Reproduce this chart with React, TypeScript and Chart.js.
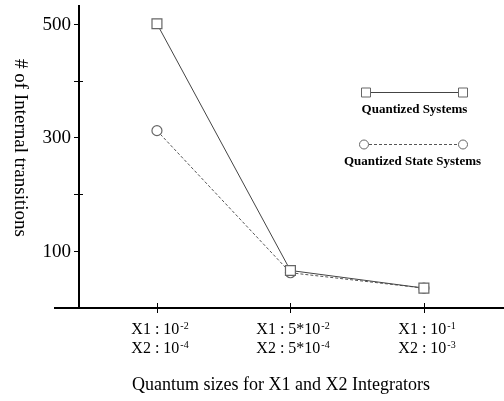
import React, { useEffect, useRef } from "react";
import { Chart, registerables } from "chart.js";

Chart.register(...registerables);

const categoriesX1 = [["X1 : 10", "-2"], ["X1 : 5*10", "-2"], ["X1 : 10", "-1"]];
const categoriesX2 = [["X2 : 10", "-4"], ["X2 : 5*10", "-4"], ["X2 : 10", "-3"]];
const quantizedSystems = [500, 66, 35];
const quantizedStateSystems = [312, 62, 35];
const yTicks = [100, 200, 300, 400, 500];
const yLabeled = [100, 300, 500];
const seriesNames = ["Quantized Systems", "Quantized State Systems"];
const yTitle = "# of Internal transitions";
const xTitle = "Quantum sizes for X1 and X2 Integrators";

const SERIF = "'Liberation Serif', 'Times New Roman', serif";

const drawPlugin = {
  id: "customAxes",
  afterDraw(chart: any) {
    const ctx = chart.ctx as CanvasRenderingContext2D;
    const xs = chart.scales.x;
    const ys = chart.scales.y;
    const area = chart.chartArea;
    ctx.save();
    ctx.strokeStyle = "#000";
    ctx.fillStyle = "#000";
    // axes
    ctx.lineWidth = 2;
    ctx.beginPath();
    ctx.moveTo(54, area.bottom);
    ctx.lineTo(area.right, area.bottom);
    ctx.moveTo(area.left, area.top);
    ctx.lineTo(area.left, area.bottom);
    ctx.stroke();
    // y ticks
    ctx.lineWidth = 1;
    ctx.font = `19px ${SERIF}`;
    ctx.textAlign = "right";
    ctx.textBaseline = "middle";
    yTicks.forEach((v) => {
      const py = Math.round(ys.getPixelForValue(v)) + 0.5;
      const labeled = yLabeled.includes(v);
      ctx.beginPath();
      if (labeled) {
        ctx.moveTo(area.left - 5, py);
        ctx.lineTo(area.left, py);
      } else {
        ctx.moveTo(area.left - 5, py);
        ctx.lineTo(area.left + 4, py);
      }
      ctx.stroke();
      if (labeled) ctx.fillText(String(v), area.left - 8, py + 1);
    });
    // x ticks
    [0, 1, 2].forEach((i) => {
      const px = Math.round(xs.getPixelForValue(i)) + 0.5;
      ctx.beginPath();
      ctx.moveTo(px, area.bottom - 5);
      ctx.lineTo(px, area.bottom + 5);
      ctx.stroke();
      const lines = [categoriesX1[i], categoriesX2[i]];
      const base = 16;
      const sup = 10;
      const widths = lines.map(([a, b]) => {
        ctx.font = `${base}px ${SERIF}`;
        const wa = ctx.measureText(a).width;
        ctx.font = `${sup}px ${SERIF}`;
        return wa + ctx.measureText(b).width;
      });
      const maxW = Math.max(...widths);
      const left = px - maxW / 2 + 2;
      ctx.textAlign = "left";
      ctx.textBaseline = "alphabetic";
      lines.forEach(([a, b], j) => {
        const by = area.bottom + 26 + j * 19;
        ctx.font = `${base}px ${SERIF}`;
        ctx.fillText(a, left, by);
        const wa = ctx.measureText(a).width;
        ctx.font = `${sup}px ${SERIF}`;
        ctx.fillText(b, left + wa + 1, by - 5);
      });
    });
    // x title
    ctx.font = `18px ${SERIF}`;
    ctx.textAlign = "center";
    ctx.textBaseline = "alphabetic";
    ctx.fillText(xTitle, 281, 390);
    // y title
    ctx.save();
    ctx.translate(20, 148);
    ctx.rotate(Math.PI / 2);
    ctx.font = `19px ${SERIF}`;
    ctx.textAlign = "center";
    ctx.textBaseline = "middle";
    ctx.fillText(yTitle, 0, 0);
    ctx.restore();
    // legend
    const legendRows = [
      { y: 92, x1: 366, x2: 463, dash: [] as number[], marker: "rect", textY: 113 },
      { y: 144, x1: 364, x2: 463, dash: [3, 2], marker: "circle", textY: 165 },
    ];
    legendRows.forEach((r, k) => {
      const ds = chart.data.datasets[k];
      ctx.strokeStyle = ds.borderColor;
      ctx.lineWidth = 1;
      ctx.setLineDash(r.dash);
      ctx.beginPath();
      ctx.moveTo(r.x1, r.y + 0.5);
      ctx.lineTo(r.x2, r.y + 0.5);
      ctx.stroke();
      ctx.setLineDash([]);
      ctx.strokeStyle = ds.pointBorderColor;
      ctx.fillStyle = "#fff";
      [r.x1, r.x2].forEach((mx) => {
        ctx.beginPath();
        if (r.marker === "rect") ctx.rect(mx - 4.5, r.y - 4, 9, 9);
        else ctx.arc(mx, r.y + 0.5, 4.5, 0, Math.PI * 2);
        ctx.fill();
        ctx.stroke();
      });
      ctx.fillStyle = "#000";
      ctx.font = `bold 13px ${SERIF}`;
      ctx.textAlign = "center";
      ctx.textBaseline = "alphabetic";
      ctx.fillText(seriesNames[k], (r.x1 + r.x2) / 2 + (k === 0 ? 0 : -1), r.textY);
    });
    ctx.restore();
  },
};

export default function App() {
  const ref = useRef<HTMLCanvasElement>(null);
  useEffect(() => {
    if (!ref.current) return;
    const chart = new Chart(ref.current, {
      type: "line",
      data: {
        datasets: [
          {
            label: seriesNames[0],
            data: quantizedSystems.map((v, i) => ({ x: i, y: v })),
            borderColor: "#444",
            borderWidth: 1,
            pointStyle: "rect",
            pointRadius: 7,
            pointBackgroundColor: "#fff",
            pointBorderColor: "#666",
            pointBorderWidth: 1.2,
            tension: 0,
          },
          {
            label: seriesNames[1],
            data: quantizedStateSystems.map((v, i) => ({ x: i, y: v })),
            borderColor: "#555",
            borderWidth: 1,
            borderDash: [3, 2],
            pointStyle: "circle",
            pointRadius: 5,
            pointBackgroundColor: "#fff",
            pointBorderColor: "#666",
            pointBorderWidth: 1.2,
            tension: 0,
          },
        ],
      },
      options: {
        responsive: false,
        animation: false,
        layout: { autoPadding: false, padding: { left: 79, top: 5, right: 0, bottom: 93 } },
        plugins: { legend: { display: false }, tooltip: { enabled: false } },
        scales: {
          x: { type: "linear", display: false, min: -0.584, max: 2.6 },
          y: { type: "linear", display: false, min: 0, max: 533 },
        },
      },
      plugins: [drawPlugin],
    });
    return () => chart.destroy();
  }, []);
  return (
    <div style={{ position: "fixed", left: 0, top: 0, width: 504, height: 401, background: "#fff" }}>
      <canvas ref={ref} width={504} height={401} />
    </div>
  );
}
